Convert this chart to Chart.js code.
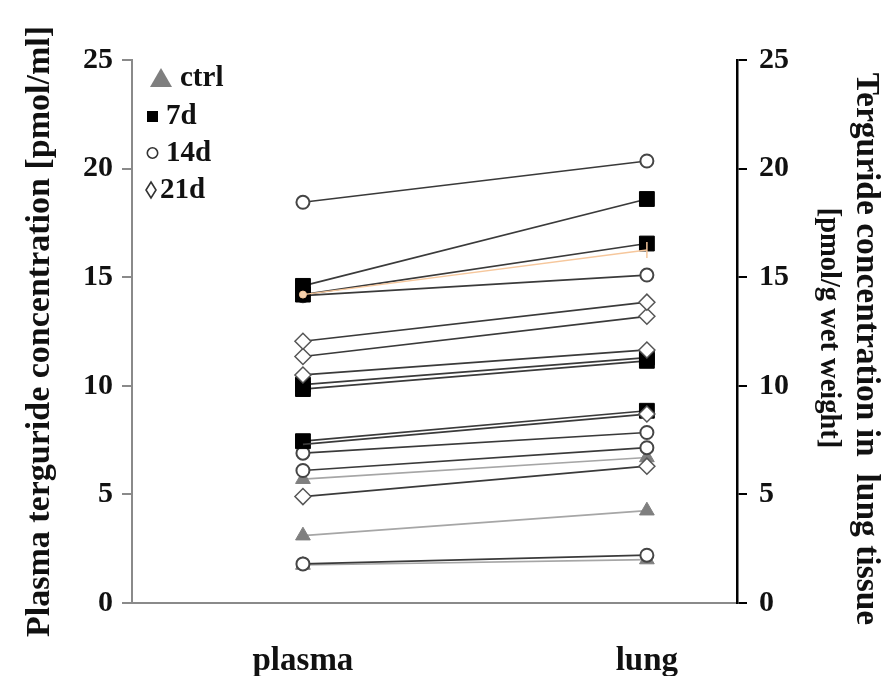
<!DOCTYPE html>
<html><head><meta charset="utf-8">
<script src="https://cdn.jsdelivr.net/npm/chart.js@4.4.1/dist/chart.umd.min.js"></script>
<style>html,body{margin:0;padding:0;background:#fff;} #wrap{width:892px;height:676px;}</style>
</head><body><div id="wrap"><canvas id="c" width="892" height="676"></canvas></div>
<script>
// ---- data ----
const categories = ['plasma', 'lung'];
const yTicks = [0, 5, 10, 15, 20, 25];
const legendLabels = ['ctrl', '7d', '14d', '21d'];
const leftTitle = 'Plasma terguride concentration [pmol/ml]';
const rightTitle = ['Terguride concentration in  lung tissue', '[pmol/g wet weight]'];

const ctrlPlasma = [5.7, 3.1, 1.75];
const ctrlLung   = [6.7, 4.25, 2.0];
const d7Plasma   = [14.6, 14.2, 10.05, 9.85, 7.45];
const d7Lung     = [18.6, 16.55, 11.3, 11.15, 8.85];
const d14Plasma  = [18.45, 14.15, 6.9, 6.1, 1.8];
const d14Lung    = [20.35, 15.1, 7.85, 7.15, 2.2];
const d21Plasma  = [12.05, 11.35, 10.5, 7.3, 4.9];
const d21Lung    = [13.85, 13.2, 11.65, 8.7, 6.3];
const extraPlasma = [14.2];
const extraLung   = [16.25];

// ---- styles ----
const FONT = '"Liberation Serif", "Times New Roman", serif';
const groups = [
  {pl: ctrlPlasma, lu: ctrlLung, style: 'triangle', r: 8.5, bg: '#7f7f7f', bc: '#7f7f7f', bw: 1, line: '#a6a6a6', order: 4},
  {pl: d7Plasma, lu: d7Lung, style: 'rect', r: 10.5, bg: '#000', bc: '#000', bw: 1, line: '#3a3a3a', order: 2},
  {pl: d14Plasma, lu: d14Lung, style: 'circle', r: 6.5, bg: '#fff', bc: '#454545', bw: 2, line: '#3a3a3a', order: 3},
  {pl: d21Plasma, lu: d21Lung, style: 'rectRot', r: 8, bg: '#fff', bc: '#555', bw: 1.5, line: '#3a3a3a', order: 1}
];
const datasets = [];
groups.forEach((g, gi) => {
  g.pl.forEach((v, i) => {
    const hidePl = (gi === 3 && i === 3);
    datasets.push({
      label: legendLabels[gi],
      data: [{x: 0, y: v}, {x: 1, y: g.lu[i]}],
      borderColor: g.line, borderWidth: 1.7,
      pointStyle: g.style,
      pointRadius: hidePl ? [0, g.r] : g.r,
      pointBackgroundColor: g.bg, pointBorderColor: g.bc, pointBorderWidth: g.bw,
      order: g.order, yAxisID: 'y'
    });
  });
});
extraPlasma.forEach((v, i) => {
  datasets.push({
    label: 'extra',
    data: [{x: 0, y: v}, {x: 1, y: extraLung[i]}],
    borderColor: '#f6c79c', borderWidth: 1.4,
    pointStyle: ['circle', 'line'], pointRotation: [0, 90], pointRadius: [3.5, 8],
    pointBackgroundColor: '#f8d2ae', pointBorderColor: '#f6c79c', pointBorderWidth: [1, 1.5],
    order: 0, yAxisID: 'y'
  });
});

const legendPlugin = {
  id: 'customLegend',
  afterDraw(chart) {
    const ctx = chart.ctx;
    ctx.save();
    // triangle
    ctx.fillStyle = '#7f7f7f';
    ctx.beginPath(); ctx.moveTo(161, 68); ctx.lineTo(172, 87); ctx.lineTo(150, 87); ctx.closePath(); ctx.fill();
    // square
    ctx.fillStyle = '#000'; ctx.fillRect(147, 111, 11, 11);
    // circle
    ctx.strokeStyle = '#333'; ctx.lineWidth = 1.6; ctx.fillStyle = '#fff';
    ctx.beginPath(); ctx.arc(152.5, 153, 5.2, 0, Math.PI * 2); ctx.fill(); ctx.stroke();
    // diamond
    ctx.beginPath(); ctx.moveTo(151, 182); ctx.lineTo(156, 190); ctx.lineTo(151, 198); ctx.lineTo(146, 190); ctx.closePath(); ctx.fill(); ctx.stroke();
    ctx.fillStyle = '#111';
    ctx.font = 'bold 29px ' + FONT;
    ctx.textBaseline = 'middle'; ctx.textAlign = 'left';
    ctx.fillText(legendLabels[0], 180, 79);
    ctx.fillText(legendLabels[1], 166, 117);
    ctx.fillText(legendLabels[2], 166, 154);
    ctx.fillText(legendLabels[3], 160, 191);
    // right axis title (two lines, rotated clockwise)
    const t = [{text: rightTitle[0], x: 866, y: 349, size: 33.5}, {text: rightTitle[1], x: 828, y: 328, size: 28.5}];
    t.forEach(o => {
      ctx.save();
      ctx.translate(o.x, o.y);
      ctx.rotate(Math.PI / 2);
      ctx.font = 'bold ' + o.size + 'px ' + FONT;
      ctx.textAlign = 'center'; ctx.textBaseline = 'middle';
      ctx.fillText(o.text, 0, 0);
      ctx.restore();
    });
    ctx.restore();
  }
};

new Chart(document.getElementById('c'), {
  type: 'line',
  data: {datasets},
  plugins: [legendPlugin],
  options: {
    responsive: false, animation: false, devicePixelRatio: 1,
    layout: {padding: {top: 60, left: 0, right: 0, bottom: 0}},
    plugins: {legend: {display: false}, tooltip: {enabled: false}},
    scales: {
      x: {
        type: 'linear', min: -0.497, max: 1.262,
        afterBuildTicks: s => { s.ticks = [{value: 0}, {value: 1}]; },
        afterFit: s => { s.height = 73; },
        grid: {display: true, drawOnChartArea: false, drawTicks: false},
        border: {display: true, color: '#8a8a8a', width: 2},
        ticks: {
          callback: v => categories[v], autoSkip: false, maxRotation: 0, padding: 39,
          color: '#111', font: {family: FONT, size: 33, weight: 'bold'}
        }
      },
      y: {
        position: 'left', min: 0, max: 25,
        afterBuildTicks: s => { s.ticks = yTicks.map(v => ({value: v})); },
        afterFit: s => { s.width = 132; },
        grid: {drawOnChartArea: false, drawTicks: true, tickLength: 10, color: '#8a8a8a', lineWidth: 2},
        border: {display: true, color: '#8a8a8a', width: 2},
        ticks: {padding: 9, color: '#111', font: {family: FONT, size: 30, weight: 'bold'}},
        title: {display: true, text: leftTitle, color: '#111', padding: {top: 20, bottom: 0},
          font: {family: FONT, size: 34, weight: 'bold'}}
      },
      y1: {
        position: 'right', min: 0, max: 25, display: true,
        afterBuildTicks: s => { s.ticks = yTicks.map(v => ({value: v})); },
        afterFit: s => { s.width = 155; },
        grid: {drawOnChartArea: false, drawTicks: true, tickLength: 10, color: '#000', lineWidth: 2},
        border: {display: true, color: '#000', width: 2.5},
        ticks: {padding: 12, color: '#111', font: {family: FONT, size: 30, weight: 'bold'}},
        title: {display: false}
      }
    }
  }
});
</script></body></html>
